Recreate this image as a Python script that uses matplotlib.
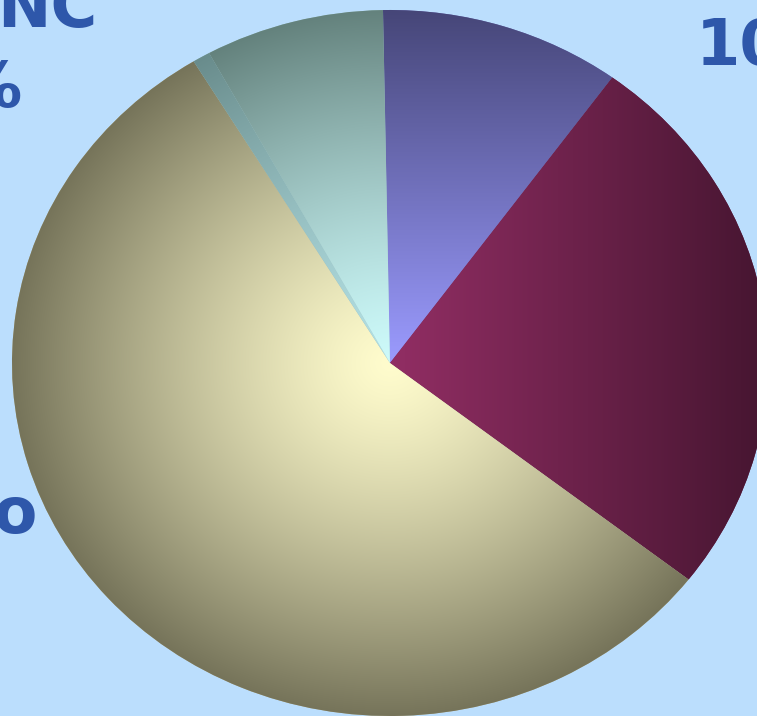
import numpy as np
import matplotlib.pyplot as plt

# slice shares (percent), clockwise from the top
slices = ['blue', 'maroon', 'yellow', 'thin', 'teal']
shares = [10.3, 25.5, 55.8, 0.75, 7.65]

# gradient ends for each slice: (centre colour, rim colour, kind)
shades = {
    'blue':   ((155, 155, 255), (70, 70, 120), 'vertical'),
    'maroon': ((146, 46, 100), (72, 22, 50), 'horizontal'),
    'yellow': ((255, 252, 205), (118, 116, 90), 'radial'),
    'thin':   ((180, 225, 228), (105, 140, 140), 'radial'),
    'teal':   ((205, 250, 250), (100, 130, 125), 'radial'),
}

label_texts = ['10%', 'NC', '1%', 'No']

BG = '#BBDEFD'
TXT = '#2E57AA'
W, H = 757, 716
RX, RY = 378, 353          # pie is drawn slightly squashed
CX, CY = 390, 363          # centre in pixels from top-left


def px(x, y):
    return x / W, 1 - y / H


def main():
    fig = plt.figure(figsize=(W / 100, H / 100), dpi=100, facecolor=BG)
    ax = fig.add_axes([0, 0, 1, 1])
    ax.set_facecolor(BG)

    wedges, _ = ax.pie(shares, startangle=91.06, counterclock=False,
                       radius=1, center=(0, 0),
                       wedgeprops=dict(linewidth=0))

    xlim = (-CX / RX, (W - CX) / RX)
    ylim = (-(H - CY) / RY, CY / RY)
    ax.set_aspect('auto')
    ax.axis('off')

    # fill every wedge with its own gradient
    gx = np.linspace(xlim[0], xlim[1], 500)
    gy = np.linspace(ylim[0], ylim[1], 480)
    X, Y = np.meshgrid(gx, gy)
    R = np.sqrt(X ** 2 + Y ** 2)
    for wedge, name in zip(wedges, slices):
        c0, c1, kind = shades[name]
        if kind == 'vertical':
            t = np.clip(Y, 0, 1)
        elif kind == 'horizontal':
            t = np.clip(X / 0.97, 0, 1)
        else:
            t = np.clip(R, 0, 1) ** 1.3
        c0 = np.array(c0) / 255
        c1 = np.array(c1) / 255
        rgb = c0 + (c1 - c0) * t[..., None]
        wedge.set_facecolor(tuple(c0 * 0.5 + c1 * 0.5))
        im = ax.imshow(rgb, extent=(xlim[0], xlim[1], ylim[0], ylim[1]),
                       origin='lower', aspect='auto', interpolation='bilinear',
                       zorder=wedge.get_zorder() + 0.1)
        im.set_clip_path(wedge)

    ax.set_xlim(*xlim)
    ax.set_ylim(*ylim)

    # labels, mostly cut off by the frame
    style = dict(fontsize=46, fontweight='bold', color=TXT,
                 family='DejaVu Sans', va='baseline')
    fig.text(*px(696, 65), label_texts[0], ha='left', **style)
    fig.text(*px(97, 27), label_texts[1], ha='right', **style)
    fig.text(*px(23, 107), label_texts[2], ha='right', **style)
    fig.text(*px(38, 533), label_texts[3], ha='right', **style)

    fig.savefig('out.png', dpi=100, facecolor=BG)


if __name__ == "__main__":
    main()
